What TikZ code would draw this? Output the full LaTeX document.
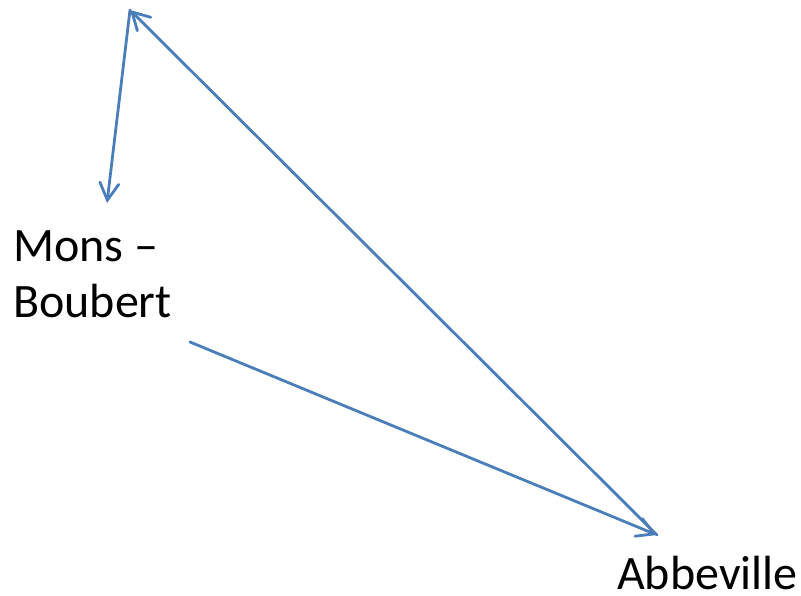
\documentclass[tikz,border=0pt]{standalone}
\usepackage{fontspec}
\setmainfont{Carlito}
\usepackage{tikz}
\usetikzlibrary{arrows.meta}
\definecolor{linkblue}{HTML}{4A7EBB}

\begin{document}
\begin{tikzpicture}[x=1pt,y=1pt,
                route/.style={color=linkblue, line width=2.8pt, line cap=round, -{Straight Barb[length=17pt,width=19pt,line cap=round]}},
                town/.style={inner sep=0pt, font=\fontsize{48}{56}\selectfont}]
                \useasboundingbox (0,0) rectangle (801,595);
                \coordinate (apex) at (130,585);
                \coordinate (monsend) at (107,392);
                \coordinate (monsstart) at (190,253);
                \coordinate (abbend) at (657,60);
                \draw (13,277) node[town, align=left, anchor=base west] (mons) {Mons --\\Boubert};
                \draw (617,6) node[town, anchor=base west] (abbeville) {Abbeville};
                %\draw[dashed] (apex) -- (abbend);
                \draw[route] (apex) -- (monsend);
                \draw[route] (abbend) -- (apex);
                \draw[route] (monsstart) -- (abbend);
            \end{tikzpicture}
\end{document}
